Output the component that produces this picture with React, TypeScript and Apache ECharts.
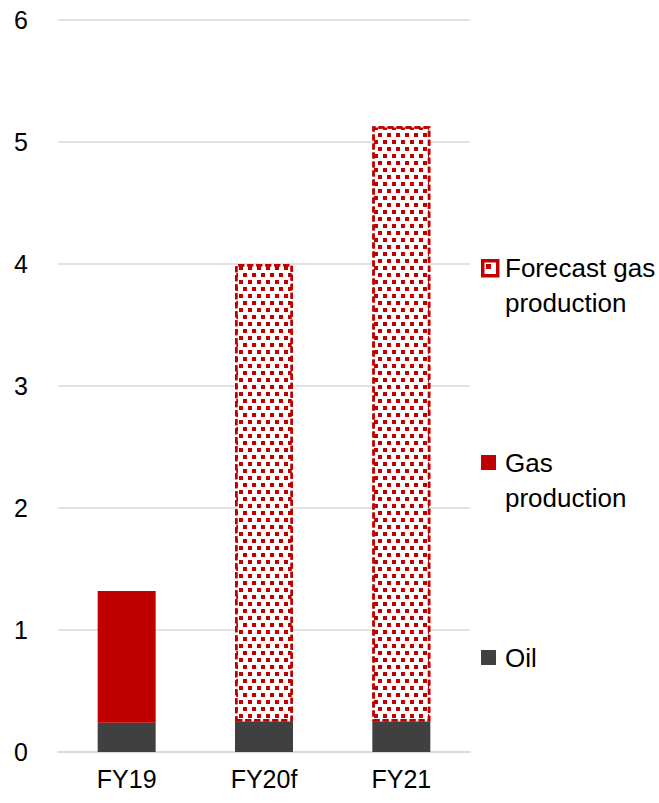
import React, { useEffect, useRef } from "react";
import * as echarts from "echarts";

const categories = ["FY19", "FY20f", "FY21"];
const oil = [0.24, 0.25, 0.25];
const gas: (number | string)[] = [1.08, "-", "-"];
const forecastGas: (number | string)[] = ["-", 3.75, 4.88];
const yTicks = { min: 0, max: 6, interval: 1 };
const legendNames = ["Forecast gas\nproduction", "Gas\nproduction", "Oil"];

const RED = "#C00000";
const DARK = "#404040";
const FONT = "Liberation Sans, Arial, sans-serif";

export default function App() {
  const ref = useRef<HTMLDivElement>(null);
  useEffect(() => {
    const chart = echarts.init(ref.current!, undefined, { renderer: "svg" });
    const legendText = (y: number, text: string) => ({
      type: "text",
      left: 505,
      top: y,
      style: { text, font: `26px ${FONT}`, fill: "#000", lineHeight: 35 },
    });
    chart.setOption({
      animation: false,
      grid: { left: 58, right: 189, top: 20, bottom: 51 },
      xAxis: {
        type: "category",
        data: categories,
        axisTick: { show: false },
        axisLine: { lineStyle: { color: "#d9d9d9", width: 1.5 } },
        axisLabel: { color: "#000", fontSize: 25, fontFamily: FONT, margin: 14 },
      },
      yAxis: {
        type: "value",
        min: yTicks.min,
        max: yTicks.max,
        interval: yTicks.interval,
        axisLabel: { color: "#000", fontSize: 25, fontFamily: FONT, margin: 30 },
        splitLine: { lineStyle: { color: "#d9d9d9", width: 1.5 } },
        axisLine: { show: false },
        axisTick: { show: false },
      },
      series: [
        {
          name: "Oil",
          type: "bar",
          stack: "total",
          barWidth: 58,
          data: oil,
          itemStyle: { color: DARK },
        },
        {
          name: "Gas production",
          type: "bar",
          stack: "total",
          barWidth: 58,
          data: gas,
          itemStyle: { color: RED },
        },
        {
          name: "Forecast gas production",
          type: "bar",
          stack: "total",
          barWidth: 58,
          data: forecastGas,
          itemStyle: {
            color: "#ffffff",
            borderColor: RED,
            borderWidth: 2.5,
            borderType: [6, 3],
            decal: {
              symbol: "rect",
              symbolSize: 1,
              color: RED,
              backgroundColor: "#ffffff",
              dashArrayX: [
                [4, 5],
                [0, 5, 4, 0],
              ],
              dashArrayY: [4, 3],
              rotation: 0,
            },
          },
        },
      ],
      graphic: [
        {
          type: "rect",
          left: 481,
          top: 259,
          shape: { width: 15, height: 15 },
          style: { fill: "#fff", stroke: RED, lineWidth: 3.5 },
        },
        {
          type: "rect",
          left: 486,
          top: 264,
          shape: { width: 5, height: 5 },
          style: { fill: RED },
        },
        legendText(250, legendNames[0]),
        {
          type: "rect",
          left: 481,
          top: 455,
          shape: { width: 15, height: 15 },
          style: { fill: RED },
        },
        legendText(445, legendNames[1]),
        {
          type: "rect",
          left: 481,
          top: 650,
          shape: { width: 15, height: 15 },
          style: { fill: DARK },
        },
        legendText(640, legendNames[2]),
      ],
    });
    return () => chart.dispose();
  }, []);
  return (
    <div
      ref={ref}
      style={{ position: "fixed", left: 0, top: 0, width: 659, height: 803, background: "#fff" }}
    />
  );
}
